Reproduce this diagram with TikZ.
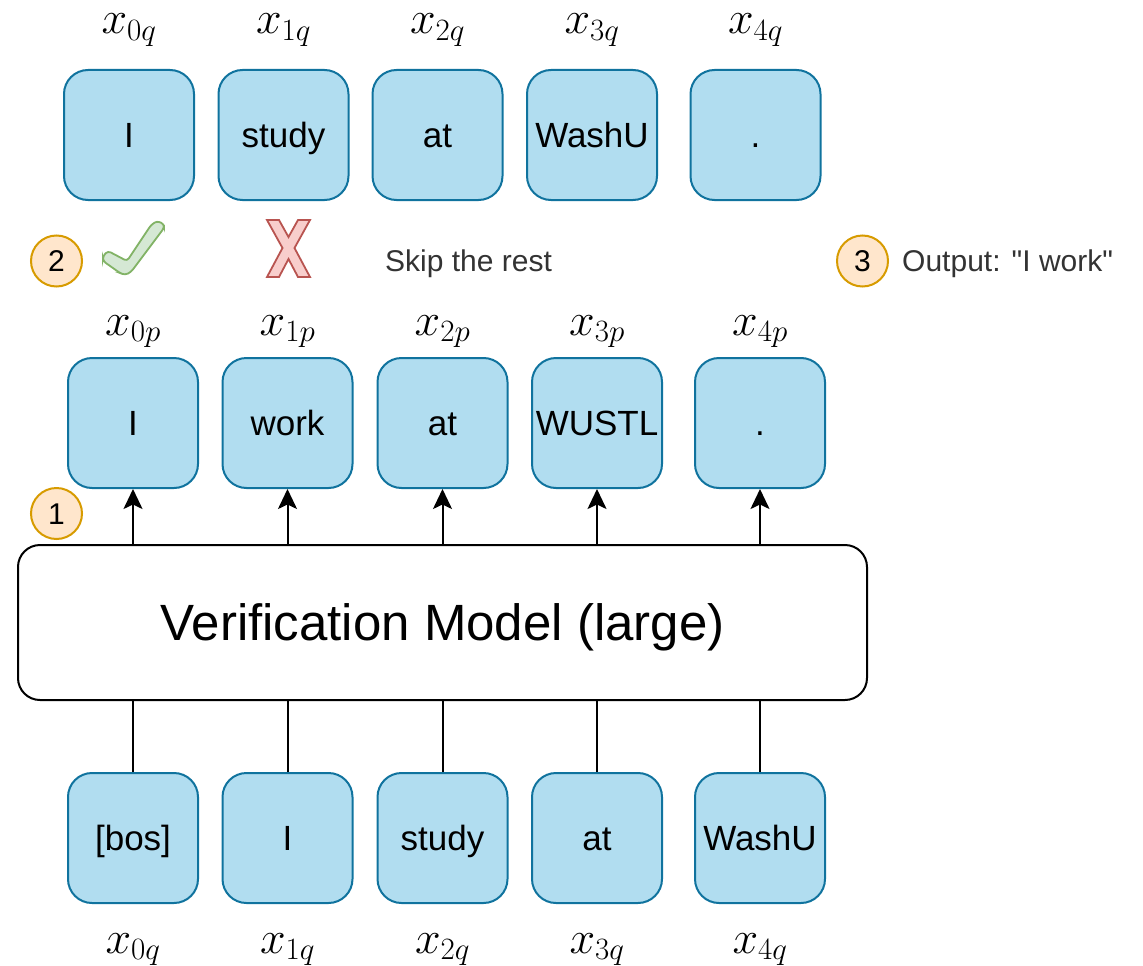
\documentclass[tikz,border=0pt]{standalone}
\usepackage{fix-cm}
\usepackage[no-math]{fontspec}
\setmainfont{Liberation Sans}
\usetikzlibrary{arrows.meta}
\DeclareMathSizes{46}{46}{31}{22}

\definecolor{tokfill}{HTML}{B1DDF0}
\definecolor{tokline}{HTML}{10739E}
\definecolor{numfill}{HTML}{FFE6CC}
\definecolor{numline}{HTML}{D79B00}
\definecolor{okfill}{HTML}{D5E8D4}
\definecolor{okline}{HTML}{82B366}
\definecolor{nofill}{HTML}{F8CECC}
\definecolor{noline}{HTML}{B85450}
\definecolor{txtgray}{HTML}{333333}

\tikzset{
  tok/.style={draw=tokline, fill=tokfill, line width=2pt, rounded corners=24pt,
    minimum width=130pt, minimum height=130pt, inner sep=0pt,
    font=\fontsize{35}{42}\selectfont, text height=25pt, text depth=0pt},
  sublbl/.style={font=\fontsize{46}{55}\selectfont, anchor=base, inner sep=0pt},
  stepnum/.style={circle, draw=numline, fill=numfill, line width=2pt,
    minimum size=51pt, inner sep=0pt,
    font=\fontsize{30}{36}\selectfont, text height=21.5pt, text depth=0pt},
  note/.style={font=\fontsize{30}{36}\selectfont, text=txtgray, anchor=base west, inner sep=0pt},
  model/.style={draw=black, fill=white, line width=2pt, rounded corners=22pt,
    minimum width=849pt, minimum height=155pt, inner sep=0pt,
    font=\fontsize{51}{61}\selectfont, text height=36.5pt, text depth=0pt},
  feedline/.style={draw=black, line width=2pt},
  predarrow/.style={draw=black, line width=2pt, -{Stealth[length=20pt,width=19pt,inset=4.5pt]}}
}

\begin{document}
\begin{tikzpicture}[x=1pt,y=-1pt]
\useasboundingbox (0,0) rectangle (1143,966);

% draft tokens (top row)
\node[tok] (q0) at (129,135)   {I};
\node[tok] (q1) at (283.5,135) {study};
\node[tok] (q2) at (437.5,135) {at};
\node[tok] (q3) at (592,135)   {WashU};
\node[tok] (q4) at (755.5,135) {.};
\node[sublbl] at (129,34)   {$x_{0q}$};
\node[sublbl] at (283.5,34) {$x_{1q}$};
\node[sublbl] at (437.5,34) {$x_{2q}$};
\node[sublbl] at (592,34)   {$x_{3q}$};
\node[sublbl] at (755.5,34) {$x_{4q}$};

% step 2: accept / reject
\node[stepnum] (n2) at (56.5,261) {2};
\draw[fill=okfill, draw=okline, line width=1.8pt, rounded corners=3pt]
  (103,256) -- (108,251) -- (127,261) -- (151,225) -- (157,221) -- (164,224)
  -- (164,228) -- (131,272) -- (125,275) -- (120,273) -- (103,261) -- cycle;
\draw[fill=nofill, draw=noline, line width=1.8pt, line join=miter]
  (267,220) -- (279,220) -- (288.5,237) -- (298,220) -- (310,220) -- (294.5,248)
  -- (310,277) -- (298,277) -- (288.5,259) -- (279,277) -- (267,277) -- (282.5,248) -- cycle;
\node[note] (skip) at (385,271) {Skip the rest};

% step 3
\node[stepnum] (n3) at (862.5,261) {3};
\node[note] (res) at (902,271) {Output: \textquotedbl I work\textquotedbl};

% predicted tokens (middle row)
\node[tok] (p0) at (133,423)   {I};
\node[tok] (p1) at (287.5,423) {work};
\node[tok] (p2) at (442.5,423) {at};
\node[tok] (p3) at (597,423)   {WUSTL};
\node[tok] (p4) at (760,423)   {.};
\node[sublbl] at (133,335)   {$x_{0p}$};
\node[sublbl] at (287.5,335) {$x_{1p}$};
\node[sublbl] at (442.5,335) {$x_{2p}$};
\node[sublbl] at (597,335)   {$x_{3p}$};
\node[sublbl] at (760,335)   {$x_{4p}$};

% step 1
\node[stepnum] (n1) at (56.5,513.5) {1};

% verification model
\node[model] (vm) at (442.5,622.5) {Verification Model (large)};

% input tokens (bottom row)
\node[tok] (b0) at (133,838)   {[bos]};
\node[tok] (b1) at (287.5,838) {I};
\node[tok] (b2) at (442.5,838) {study};
\node[tok] (b3) at (597,838)   {at};
\node[tok] (b4) at (760,838)   {WashU};
\node[sublbl] at (133,953)   {$x_{0q}$};
\node[sublbl] at (287.5,953) {$x_{1q}$};
\node[sublbl] at (442.5,953) {$x_{2q}$};
\node[sublbl] at (597,953)   {$x_{3q}$};
\node[sublbl] at (760,953)   {$x_{4q}$};

% connectors
\foreach \i in {0,...,4} {
  \draw[feedline] (b\i.north) -- (b\i |- vm.south);
  \draw[predarrow] (vm.north -| p\i) -- (p\i.south);
}
\end{tikzpicture}
\end{document}
